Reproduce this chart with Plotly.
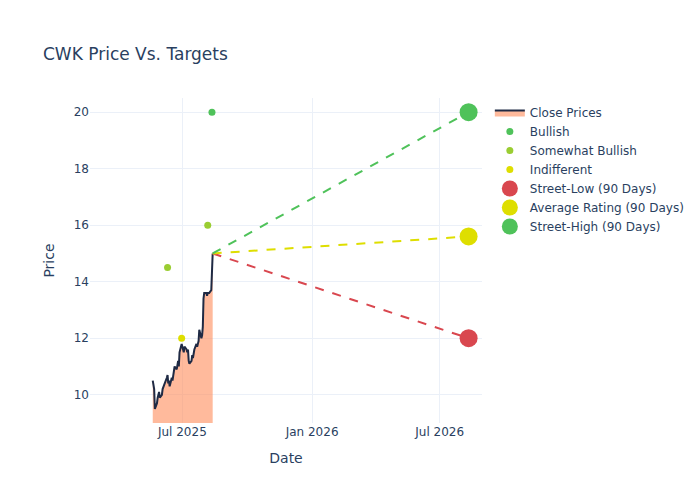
import pandas as pd
import plotly.graph_objects as go

# close prices, business days ending 2025-08-13
close_prices = [10.5, 10.4, 10.2, 9.5,
                9.7, 9.9, 10.0, 10.1, 9.9, 10.0,
                10.2, 10.3, 10.3, 10.4, 10.6, 10.7,
                10.4, 10.5, 10.3, 10.6, 10.5, 10.7,
                10.9, 11.0, 10.9, 11.1, 11.2, 11.0,
                11.5, 11.8, 11.7, 11.6, 11.5, 11.7, 11.6,
                11.5, 11.6, 11.2, 11.1, 11.2, 11.4, 11.3,
                11.5, 11.6, 11.8, 11.7, 11.8, 11.9, 12.3, 12.0, 12.1,
                12.4, 13.4, 13.6, 13.6, 13.5, 13.6,
                13.6, 13.6, 13.7, 14.5, 15.0]
close_dates = pd.bdate_range(end='2025-08-13', periods=len(close_prices))

bullish_dates = ['2025-08-12']
bullish_vals = [20]
sbull_dates = ['2025-06-10', '2025-08-06']
sbull_vals = [14.5, 16]
indiff_dates = ['2025-06-30']
indiff_vals = [12]

last_date = close_dates[-1]
last_price = close_prices[-1]
target_date = '2026-08-11'
street_low, avg_rating, street_high = 12, 15.6, 20

fig = go.Figure()
fig.add_trace(go.Scatter(x=close_dates, y=close_prices, mode='lines', name='Close Prices',
                         line=dict(color='#1f2a44', width=2), fill='tozeroy',
                         fillcolor='rgba(255,140,90,0.6)'))
fig.add_trace(go.Scatter(x=bullish_dates, y=bullish_vals, mode='markers', name='Bullish',
                         marker=dict(color='#4fc25a', size=7)))
fig.add_trace(go.Scatter(x=sbull_dates, y=sbull_vals, mode='markers', name='Somewhat Bullish',
                         marker=dict(color='#9acd32', size=7)))
fig.add_trace(go.Scatter(x=indiff_dates, y=indiff_vals, mode='markers', name='Indifferent',
                         marker=dict(color='#dede00', size=7)))
for name, val, col in [('Street-Low (90 Days)', street_low, '#d9474f'),
                       ('Average Rating (90 Days)', avg_rating, '#dede00'),
                       ('Street-High (90 Days)', street_high, '#4fc25a')]:
    fig.add_trace(go.Scatter(x=[last_date, target_date], y=[last_price, val], mode='lines',
                             line=dict(color=col, dash='dash', width=2), showlegend=False))
    fig.add_trace(go.Scatter(x=[target_date], y=[val], mode='markers', name=name,
                             marker=dict(color=col, size=18)))

fig.update_layout(
    title=dict(text='CWK Price Vs. Targets', x=0.05, y=0.92),
    xaxis_title='Date', yaxis_title='Price',
    template='plotly_white',
    font=dict(family='DejaVu Sans'),
    width=700, height=500,
    margin=dict(l=82, r=226, t=90, b=85),
    xaxis=dict(range=['2025-02-20', '2026-08-30'], dtick='M6', tickformat='%b %Y'),
    yaxis=dict(range=[9, 20.5]),
)
fig.write_html('out.html')
